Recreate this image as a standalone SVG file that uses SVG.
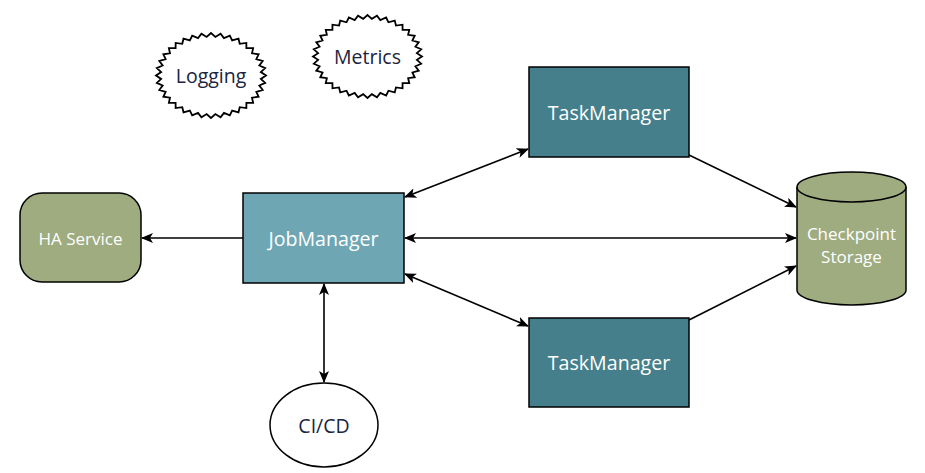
<svg xmlns="http://www.w3.org/2000/svg" xmlns:xlink="http://www.w3.org/1999/xlink" width="925" height="473" viewBox="0 0 925 473">
<style>
text{font-family:"Open Sans","Noto Sans","Liberation Sans",sans-serif;text-anchor:middle;dominant-baseline:central}
.w{fill:#ffffff}
.d{fill:#1b2440}
.box{stroke:#000;stroke-width:1.5}
.ln{stroke:#000;stroke-width:1.6;fill:none}
.star{fill:#fff;stroke:#000;stroke-width:1.8;vector-effect:non-scaling-stroke;stroke-linejoin:miter}
</style>
<defs>
<marker id="ah" markerWidth="12" markerHeight="10" refX="11" refY="5" orient="auto-start-reverse" markerUnits="userSpaceOnUse">
<path d="M0,0 L12,5 L0,10 L3,5 Z" fill="#000"/>
</marker>
<polygon id="burst" class="star" points="1,0 .9065,.0794 .9848,.1736 .8790,.2355 .9397,.3420 .8247,.3846 .8660,.5 .7455,.5220 .7660,.6428 .6435,.6435 .6428,.7660 .5220,.7455 .5,.8660 .3846,.8247 .3420,.9397 .2355,.8790 .1736,.9848 .0794,.9065 0,1 -.0794,.9065 -.1736,.9848 -.2355,.8790 -.3420,.9397 -.3846,.8247 -.5,.8660 -.5220,.7455 -.6428,.7660 -.6435,.6435 -.7660,.6428 -.7455,.5220 -.8660,.5 -.8247,.3846 -.9397,.3420 -.8790,.2355 -.9848,.1736 -.9065,.0794 -1,0 -.9065,-.0794 -.9848,-.1736 -.8790,-.2355 -.9397,-.3420 -.8247,-.3846 -.8660,-.5 -.7455,-.5220 -.7660,-.6428 -.6435,-.6435 -.6428,-.7660 -.5220,-.7455 -.5,-.8660 -.3846,-.8247 -.3420,-.9397 -.2355,-.8790 -.1736,-.9848 -.0794,-.9065 0,-1 .0794,-.9065 .1736,-.9848 .2355,-.8790 .3420,-.9397 .3846,-.8247 .5,-.8660 .5220,-.7455 .6428,-.7660 .6435,-.6435 .7660,-.6428 .7455,-.5220 .8660,-.5 .8247,-.3846 .9397,-.3420 .8790,-.2355 .9848,-.1736 .9065,-.0794"/>
</defs>
<rect width="925" height="473" fill="#fff"/>
<g id="connectors">
<line class="ln" x1="243" y1="238" x2="142" y2="238" marker-end="url(#ah)"/>
<line class="ln" x1="405" y1="197" x2="528" y2="149" marker-start="url(#ah)" marker-end="url(#ah)"/>
<line class="ln" x1="405" y1="274" x2="528" y2="326" marker-start="url(#ah)" marker-end="url(#ah)"/>
<line class="ln" x1="405" y1="238" x2="796" y2="238" marker-start="url(#ah)" marker-end="url(#ah)"/>
<line class="ln" x1="324" y1="284" x2="324" y2="382" marker-start="url(#ah)" marker-end="url(#ah)"/>
<line class="ln" x1="689" y1="155" x2="796" y2="207" marker-end="url(#ah)"/>
<line class="ln" x1="689" y1="320" x2="796" y2="266" marker-end="url(#ah)"/>
</g>
<g id="logging">
<use xlink:href="#burst" transform="translate(211,75.5) scale(55,42.5)"/>
<text class="d" x="211" y="75" font-size="19.5">Logging</text>
</g>
<g id="metrics">
<use xlink:href="#burst" transform="translate(367.5,56.5) scale(54.5,41.5)"/>
<text class="d" x="367.5" y="56" font-size="19.5">Metrics</text>
</g>
<g id="taskmanager1">
<rect class="box" x="529" y="67" width="160" height="90" fill="#457f8b"/>
<text class="w" x="609" y="112" font-size="19.6">TaskManager</text>
</g>
<g id="taskmanager2">
<rect class="box" x="529" y="318" width="160" height="89" fill="#457f8b"/>
<text class="w" x="609" y="362" font-size="19.6">TaskManager</text>
</g>
<g id="jobmanager">
<rect class="box" x="243" y="193" width="161" height="90" fill="#6ea7b3"/>
<text class="w" x="323.5" y="238" font-size="19.6">JobManager</text>
</g>
<g id="ha-service">
<rect class="box" x="20" y="193" width="121" height="89" rx="22" ry="22" fill="#9eac80"/>
<text class="w" x="80.5" y="238" font-size="17">HA Service</text>
</g>
<g id="checkpoint-storage">
<path class="box" d="M797,187 A54.5,15 0 0 1 906,187 V290 A54.5,15 0 0 1 797,290 Z" fill="#9eac80"/>
<path class="box" d="M797,187 A54.5,15 0 0 0 906,187" fill="none"/>
<text class="w" x="851.5" y="233" font-size="17">Checkpoint</text>
<text class="w" x="851.5" y="256" font-size="17">Storage</text>
</g>
<g id="cicd">
<ellipse class="box" cx="324" cy="425" rx="54" ry="42" fill="#fff"/>
<text class="d" x="324" y="425" font-size="19.5">CI/CD</text>
</g>
</svg>
